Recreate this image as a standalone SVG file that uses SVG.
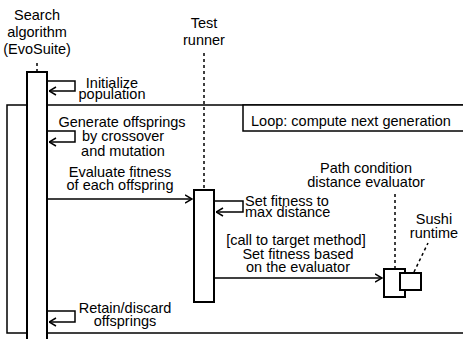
<svg xmlns="http://www.w3.org/2000/svg" width="463" height="339" viewBox="0 0 463 339">
<defs>
<style>
text{font-family:"Liberation Sans",Arial,sans-serif;font-size:14.5px;fill:#000}
.c{text-anchor:middle}
.act{fill:#fff;stroke:#000;stroke-width:2}
.life{stroke:#000;stroke-width:1.5;stroke-dasharray:3,3;fill:none}
.msg{stroke:#000;stroke-width:1.5;fill:none;marker-end:url(#ah)}
.frame{fill:#fff;stroke:#000;stroke-width:1.5}
</style>
<marker id="ah" viewBox="0 0 8 10" refX="7.5" refY="5" markerWidth="8" markerHeight="10" markerUnits="userSpaceOnUse" orient="auto">
<path d="M0.5,1 L7.5,5 L0.5,9" fill="none" stroke="#000" stroke-width="1.5"/>
</marker>
</defs>
<rect x="-5" y="-5" width="475" height="350" fill="#fff"/>
<g id="loop">
<rect class="frame" x="7" y="105" width="470" height="228"/>
<rect class="frame" x="243" y="105" width="230" height="26"/>
<text x="251" y="125.5">Loop: compute next generation</text>
</g>
<g id="connectors">
<line class="life" x1="37" y1="63" x2="37" y2="72"/>
<line class="life" x1="204" y1="53" x2="204" y2="190"/>
<line class="life" x1="395" y1="194" x2="395" y2="269"/>
<line class="life" x1="414" y1="272" x2="428" y2="243"/>
<path class="msg" d="M47,81 H75 V91 H49"/>
<path class="msg" d="M47,131 H75 V142 H49"/>
<path class="msg" d="M47,199 H192"/>
<path class="msg" d="M214,201 H243 V212 H216"/>
<path class="msg" d="M214,278 H382"/>
<path class="msg" d="M47,311 H75 V322 H49"/>
</g>
<g id="evosuite">
<text class="c" x="37" y="20">Search</text>
<text class="c" x="37" y="36.5">algorithm</text>
<text class="c" x="37" y="53.5">(EvoSuite)</text>
<rect class="act" x="27" y="72" width="20" height="290"/>
</g>
<g id="testrunner">
<text class="c" x="204" y="28">Test</text>
<text class="c" x="204" y="44.5">runner</text>
<rect class="act" x="194" y="190" width="20" height="112"/>
</g>
<g id="pathcondition">
<text class="c" x="366" y="173">Path condition</text>
<text class="c" x="366" y="187">distance evaluator</text>
<rect class="act" x="384" y="269" width="21" height="28"/>
</g>
<g id="sushi">
<text class="c" x="434" y="224">Sushi</text>
<text class="c" x="434" y="238">runtime</text>
<rect class="act" x="400" y="273" width="21" height="17"/>
</g>
<g id="labels">
<text class="c" x="112" y="87.5">Initialize</text>
<text class="c" x="112" y="98.5">population</text>
<text class="c" x="122" y="126.5">Generate offsprings</text>
<text class="c" x="123" y="141">by crossover</text>
<text class="c" x="123" y="155.5">and mutation</text>
<text class="c" x="120" y="177">Evaluate fitness</text>
<text class="c" x="120" y="189.5">of each offspring</text>
<text x="245" y="205.5">Set fitness to</text>
<text x="245" y="217">max distance</text>
<text class="c" x="296" y="244.5">[call to target method]</text>
<text class="c" x="298" y="258.5">Set fitness based</text>
<text class="c" x="298" y="272">on the evaluator</text>
<text class="c" x="125" y="312.5">Retain/discard</text>
<text class="c" x="125" y="326">offsprings</text>
</g>
</svg>
